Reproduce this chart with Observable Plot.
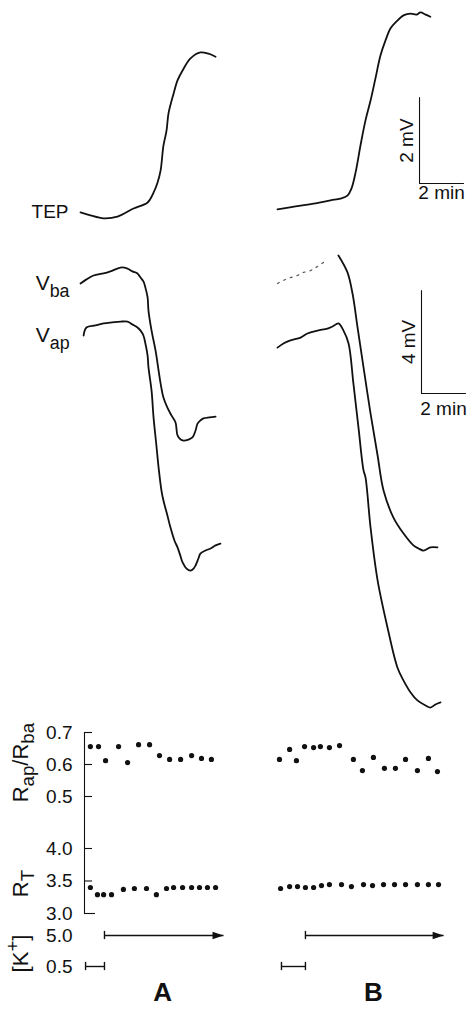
<!DOCTYPE html>
<html><head><meta charset="utf-8">
<script src="https://cdn.jsdelivr.net/npm/d3@7"></script>
<script src="https://cdn.jsdelivr.net/npm/@observablehq/plot@0.6"></script>
<style>
html,body{margin:0;padding:0;background:#fff;}
#chart{width:469px;}
#chart svg{display:block;background:#fff;}
</style></head><body><div id="chart"></div>
<script>
// ---------------- DATA ----------------
const panels = ["A", "B"];
// TEP (mV) vs time (min); each experiment's time starts at 0
const tepA_t = [0,0.45,1.05,1.68,2.41,3.05,3.32,3.5,3.64,3.77,3.91,4.0,4.23,4.41,4.64,5.0,5.45,5.82,6.14];
const tepA_v = [-0.02,-0.09,-0.16,-0.12,0.07,0.21,0.44,0.67,0.95,1.53,1.88,2.28,2.74,3.05,3.28,3.56,3.70,3.67,3.60];
const tepB_t = [0,0.82,1.73,2.41,2.86,3.18,3.36,3.55,3.77,4.0,4.23,4.45,4.68,4.91,5.14,5.41,5.73,6.05,6.32,6.5,6.73,6.95];
const tepB_v = [0.05,0.12,0.19,0.26,0.30,0.37,0.53,0.91,1.53,2.12,2.58,3.09,3.63,3.98,4.26,4.42,4.56,4.60,4.58,4.63,4.58,4.53];
// Membrane potentials (mV, display offsets)
const vbaA_t = [0,0.27,0.59,1.05,1.36,1.82,2.14,2.36,2.59,2.73,2.86,2.95,3.05,3.09,3.23,3.41,3.55,3.64,3.77,3.95,4.14,4.32,4.41,4.55,4.68,4.91,5.09,5.23,5.32,5.45,5.59,5.86,6.14];
const vbaA_v = [0,0.16,0.31,0.39,0.47,0.62,0.58,0.47,0.39,0.23,0.08,-0.16,-0.54,-1.05,-1.83,-2.60,-3.38,-3.88,-4.43,-4.82,-5.13,-5.40,-5.90,-6.06,-6.10,-6.06,-5.98,-5.71,-5.44,-5.32,-5.24,-5.20,-5.17];
const vapA_t = [0.14,0.27,0.68,1.05,1.45,1.82,2.14,2.36,2.59,2.73,2.86,2.95,3.05,3.09,3.23,3.32,3.45,3.55,3.68,3.77,3.95,4.09,4.27,4.41,4.55,4.64,4.82,5.0,5.14,5.23,5.36,5.45,5.68,5.91,6.14,6.36];
const vapA_v = [-2.02,-1.71,-1.63,-1.55,-1.51,-1.48,-1.48,-1.59,-1.71,-1.83,-2.02,-2.33,-2.80,-3.26,-4.16,-5.20,-6.29,-7.15,-8.04,-8.43,-9.01,-9.48,-9.98,-10.25,-10.60,-10.83,-11.07,-11.15,-11.07,-10.95,-10.68,-10.49,-10.37,-10.29,-10.17,-10.10];
const vbaBfaint_t = [0,0.27,0.59,0.91,1.18,1.5,1.82,2.09];
const vbaBfaint_v = [0,0.12,0.23,0.31,0.43,0.50,0.66,0.82];
const vbaB_t = [2.77,3.18,3.41,3.64,3.91,4.23,4.55,4.82,5.27,5.73,6.18,6.41,6.64,6.95,7.27];
const vbaB_v = [1.09,0.43,-0.39,-1.71,-3.26,-5.05,-6.68,-8.04,-9.09,-9.71,-10.17,-10.29,-10.37,-10.25,-10.25];
const vapB_t = [0,0.27,0.59,1.05,1.36,1.82,2.27,2.5,2.77,3.0,3.23,3.45,3.68,3.91,4.0,4.23,4.55,5.0,5.45,5.73,6.05,6.36,6.73,6.95,7.18,7.41];
const vapB_v = [-2.49,-2.33,-2.21,-2.10,-1.94,-1.83,-1.75,-1.67,-1.55,-1.83,-2.33,-3.88,-5.59,-7.26,-7.53,-9.48,-11.53,-13.36,-14.91,-15.42,-15.88,-16.19,-16.39,-16.47,-16.35,-16.27];
// Resistance ratio Rap/Rba
const ratioA_t = [0.45,0.82,1.14,1.73,2.14,2.64,3.14,3.59,4.05,4.55,5.05,5.5,5.95];
const ratioA = [0.656,0.656,0.612,0.656,0.606,0.662,0.662,0.628,0.616,0.616,0.628,0.619,0.616];
const ratioB_t = [0.09,0.55,0.86,1.23,1.64,1.95,2.36,2.82,3.45,3.86,4.36,4.86,5.36,5.82,6.36,6.86,7.27];
const ratioB = [0.616,0.647,0.612,0.656,0.653,0.656,0.653,0.659,0.616,0.581,0.622,0.588,0.588,0.616,0.581,0.619,0.578];
// Transepithelial resistance RT
const rtA_t = [0.45,0.77,1.05,1.41,1.95,2.45,3.0,3.45,3.91,4.23,4.64,5.05,5.41,5.77,6.14];
const rtA = [3.40,3.29,3.29,3.29,3.37,3.385,3.385,3.29,3.385,3.40,3.40,3.40,3.40,3.40,3.40];
const rtB_t = [0.14,0.55,0.91,1.27,1.64,2.0,2.36,2.91,3.36,3.91,4.32,4.82,5.32,5.82,6.36,6.86,7.32];
const rtB = [3.385,3.415,3.415,3.40,3.40,3.43,3.445,3.445,3.415,3.445,3.43,3.445,3.445,3.445,3.445,3.445,3.445];
// Bath [K+] (mM) periods
const kPanel = ["A","A","B","B"];
const kConc  = [0.5, 5.0, 0.5, 5.0];
const kStart = [0.23, 1.09, 0.18, 1.27];
const kEnd   = [1.09, 6.5, 1.27, 7.55];
// axis tick labels
const ratioTicks = [0.5, 0.6, 0.7];
const rtTicks = [3.0, 3.5, 4.0];
const kTicks = [5.0, 0.5];
// scale bars
const tepBar = {dt: 2, dv: 2, labelT: "2 min", labelV: "2 mV"};
const vBar = {dt: 2, dv: 4, labelT: "2 min", labelV: "4 mV"};

// ---------------- LAYOUT ----------------
const W = 469, PPM = 22;              // px per minute
const T_LEFT = -80 / PPM, T_RIGHT = T_LEFT + W / PPM;
const B_SHIFT = 197 / PPM;            // experiment B drawn to the right
const AX_MARGIN = 84;                 // bottom panels' axis position
const T_AXIS = T_LEFT + AX_MARGIN / PPM;
const shift = p => p === "B" ? B_SHIFT : 0;
const font = "'Liberation Sans', Arial, Helvetica, sans-serif";
const ink = "#111";
const style = {fontFamily: font, fontSize: "19px", color: ink, background: "#fff", overflow: "visible"};
const traceStyle = {x: "t", y: "v", z: "panel", stroke: ink, strokeWidth: 1.8, curve: "catmull-rom"};

const series = (panel, ts, vs) => ts.map((t, i) => ({panel, t: t + shift(panel), v: vs[i]}));
const tep = [...series("A", tepA_t, tepA_v), ...series("B", tepB_t, tepB_v)];
const vba = [...series("A", vbaA_t, vbaA_v), ...series("B", vbaB_t, vbaB_v)];
const vap = [...series("A", vapA_t, vapA_v), ...series("B", vapB_t, vapB_v)];
const vbaFaint = series("B", vbaBfaint_t, vbaBfaint_v);
const ratio = [...series("A", ratioA_t, ratioA), ...series("B", ratioB_t, ratioB)];
const rt = [...series("A", rtA_t, rtA), ...series("B", rtB_t, rtB)];
const kPeriods = kPanel.map((p, i) => ({panel: p, conc: kConc[i], x1: kStart[i] + shift(p), x2: kEnd[i] + shift(p)}));
const kCaps = kPeriods.flatMap(d => d.conc < 1 ? [{t: d.x1, conc: d.conc}, {t: d.x2, conc: d.conc}] : [{t: d.x1, conc: d.conc}]);
const panelLabels = [{name: "A", t: 3.73}, {name: "B", t: 4.36 + B_SHIFT}];

function scaleBar(bar, t0, v0, dyMin) {
  const pts = [{t: t0, v: v0 + bar.dv}, {t: t0, v: v0}, {t: t0 + bar.dt, v: v0}];
  return [
    Plot.line(pts, {x: "t", y: "v", stroke: ink, strokeWidth: 1.1}),
    Plot.text([pts[1]], {x: "t", y: d => d.v + bar.dv / 2, text: () => bar.labelV, rotate: -90, dx: -13}),
    Plot.text([pts[1]], {x: d => d.t + bar.dt / 2, y: "v", text: () => bar.labelT, dy: dyMin})
  ];
}

const arrowHead = {draw(ctx, size) { const r = Math.sqrt(size / Math.PI); ctx.moveTo(0, 0); ctx.lineTo(-2.2 * r, -0.75 * r); ctx.lineTo(-2.2 * r, 0.75 * r); ctx.closePath(); }};

// ---- Panel 1: TEP ----
const p1 = Plot.plot({
  width: W, height: 240, margin: 0, style,
  x: {domain: [T_LEFT, T_RIGHT], axis: null},
  y: {domain: [-29 / 43, 211 / 43], axis: null},
  marks: [
    Plot.line(tep, traceStyle),
    Plot.text([tep[0]], {x: "t", y: "v", text: () => "TEP", textAnchor: "end", dx: -12}),
    ...scaleBar(tepBar, 15.41, 0.65, 9)
  ]
});

// ---- Panel 2: Vba / Vap ----
const p2 = Plot.plot({
  width: W, height: 480, margin: 0, style,
  x: {domain: [T_LEFT, T_RIGHT], axis: null},
  y: {domain: [(283 - 720) / 25.75, (283 - 240) / 25.75], axis: null},
  marks: [
    Plot.line(vbaFaint, {x: "t", y: "v", stroke: "#555", strokeWidth: 1.2, strokeDasharray: "2,5"}),
    Plot.line(vba, traceStyle),
    Plot.line(vap, traceStyle),
    Plot.text([vba[0]], {x: "t", y: "v", text: () => "V_{ba}", textAnchor: "end", dx: -11, fontSize: 21}),
    Plot.text([vap[0]], {x: "t", y: "v", text: () => "V_{ap}", textAnchor: "end", dx: -14, fontSize: 21}),
    ...scaleBar(vBar, 15.5, -4.27, 15)
  ]
});

// ---- Panel 3: Rap/Rba ----
const r3 = [0.7 - 73 / 320, 0.7 + 12 / 320];
const p3 = Plot.plot({
  width: W, height: 85, marginLeft: AX_MARGIN, marginRight: 0, marginTop: 0, marginBottom: 0, style,
  x: {domain: [T_AXIS, T_RIGHT], axis: null},
  y: {domain: r3, axis: null},
  marks: [
    Plot.axisY({ticks: ratioTicks, tickSize: 0, tickPadding: 12, tickFormat: ".1f", label: null, fontSize: 19}),
    Plot.ruleY(ratioTicks, {x1: T_AXIS, x2: T_AXIS + 8 / PPM, stroke: ink, strokeWidth: 1.1}),
    Plot.ruleX([T_AXIS], {y1: 0.7, y2: r3[0], stroke: ink, strokeWidth: 1.1}),
    Plot.dot(ratio, {x: "t", y: "v", r: 2.6, fill: ink}),
    Plot.text([0.606], {y: d => d, frameAnchor: "left", dx: -64, textAnchor: "middle", text: () => "R_{ap}/R_{ba}", rotate: -90, fontSize: 22})
  ]
});

// ---- Panel 4: RT ----
const r4 = [3.0 - 7 / 65, 4.0 + 43 / 65];
const p4 = Plot.plot({
  width: W, height: 115, marginLeft: AX_MARGIN, marginRight: 0, marginTop: 0, marginBottom: 0, style,
  x: {domain: [T_AXIS, T_RIGHT], axis: null},
  y: {domain: r4, axis: null},
  marks: [
    Plot.axisY({ticks: rtTicks, tickSize: 0, tickPadding: 12, tickFormat: ".1f", label: null, fontSize: 19}),
    Plot.ruleY(rtTicks, {x1: T_AXIS, x2: d => T_AXIS + (d === 3.0 ? 11 : 8) / PPM, stroke: ink, strokeWidth: 1.1}),
    Plot.ruleX([T_AXIS], {y1: r4[1], y2: 3.0, stroke: ink, strokeWidth: 1.1}),
    Plot.dot(rt, {x: "t", y: "v", r: 2.6, fill: ink}),
    Plot.text([3.46], {y: d => d, frameAnchor: "left", dx: -64, textAnchor: "middle", text: () => "R_{T}", rotate: -90, fontSize: 22})
  ]
});

// ---- Panel 5: [K+] and panel letters ----
const kpx = 31 / 4.5;
const r5 = [0.5 - 44 / kpx, 5.0 + 15 / kpx];
const p5 = Plot.plot({
  width: W, height: 90, marginLeft: AX_MARGIN, marginRight: 0, marginTop: 0, marginBottom: 0, style,
  x: {domain: [T_AXIS, T_RIGHT], axis: null},
  y: {domain: r5, axis: null},
  marks: [
    Plot.axisY({ticks: kTicks, tickSize: 0, tickPadding: 12, tickFormat: ".1f", label: null, fontSize: 19}),
    Plot.link(kPeriods, {x1: "x1", x2: "x2", y1: "conc", y2: "conc", stroke: ink, strokeWidth: 1.4}),
    Plot.ruleX(kCaps, {x: "t", y1: d => d.conc - 0.6, y2: d => d.conc + 0.6, stroke: ink, strokeWidth: 1.4}),
    Plot.dot(kPeriods.filter(d => d.conc > 1), {x: "x2", y: "conc", symbol: arrowHead, r: 5, fill: ink, stroke: "none"}),
    Plot.text([2.39], {y: d => d, frameAnchor: "left", dx: -64, textAnchor: "middle", text: () => "[K^{+}]", rotate: -90, fontSize: 22}),
    Plot.text(panelLabels, {x: "t", frameAnchor: "bottom", dy: -10, text: "name", fontWeight: "bold", fontSize: 26})
  ]
});

const root = document.getElementById("chart");
[p1, p2, p3, p4, p5].forEach(s => root.appendChild(s));

// rich text: _{sub} and ^{sup}
const NS = "http://www.w3.org/2000/svg";
root.querySelectorAll("text").forEach(el => {
  const s = el.textContent;
  if (!/[_^]\{/.test(s)) return;
  const fs = parseFloat(getComputedStyle(el).fontSize) || 19;
  el.textContent = "";
  let cur = 0;
  const add = (txt, kind) => {
    const ts = document.createElementNS(NS, "tspan");
    ts.textContent = txt;
    const target = kind === "_" ? fs * 0.3 : kind === "^" ? -fs * 0.4 : 0;
    if (target !== cur) ts.setAttribute("dy", target - cur);
    if (kind) ts.setAttribute("font-size", fs * 0.85);
    cur = target;
    el.appendChild(ts);
  };
  const re = /([_^])\{([^}]*)\}/g; let last = 0, m;
  while ((m = re.exec(s))) { if (m.index > last) add(s.slice(last, m.index), null); add(m[2], m[1]); last = re.lastIndex; }
  if (last < s.length) add(s.slice(last), null);
});
</script></body></html>
